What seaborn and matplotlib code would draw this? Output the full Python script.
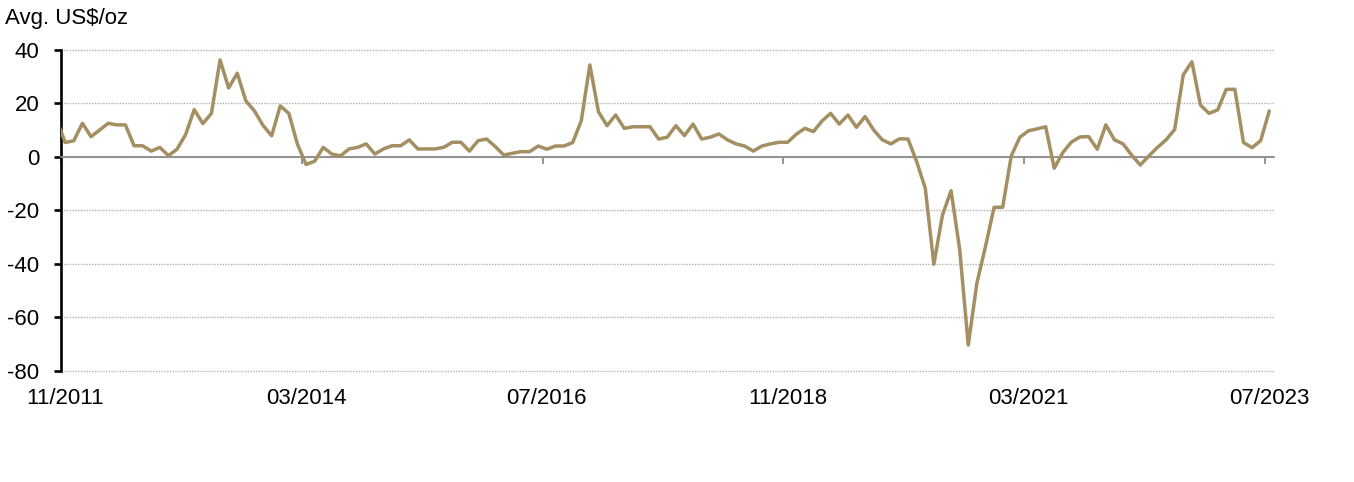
import numpy as np
import pandas as pd
import matplotlib.pyplot as plt
import seaborn as sns

# Monthly average spread, US$/oz (10/2011 is only partly visible at the left edge)
months = pd.period_range('2011-10', '2023-07', freq='M')

spread_2011_2014 = [14.0, 5.4, 6.1, 12.6, 7.6, 10.1, 12.6, 12.0, 12.0, 4.2, 4.2, 2.2, 3.6,
                    0.5, 2.9, 8.4, 17.7, 12.5, 16.3, 36.3, 25.8, 31.3, 21.0, 17.2, 11.8,
                    7.9, 19.1, 16.3, 4.8, -2.8]
spread_2014_2016 = [-1.6, 3.6, 1.1, 0.4, 3.0, 3.6, 4.9, 1.1, 3.0, 4.2, 4.2, 6.4, 3.0,
                    3.0, 3.0, 3.6, 5.5, 5.5, 2.2, 6.1, 6.7, 3.9, 0.7, 1.4, 2.0, 2.0,
                    4.1, 2.9, 4.1, 4.1, 5.4]
spread_2016_2019 = [13.5, 34.4, 16.9, 11.7, 15.7, 10.7, 11.3, 11.3, 11.3, 6.7, 7.4, 11.7,
                    8.0, 12.3, 6.7, 7.4, 8.6, 6.4, 4.9, 4.1, 2.2, 4.1, 4.9, 5.5, 5.5,
                    8.5, 10.7, 9.5, 13.5, 16.3, 12.3, 15.7, 11.1, 15.1, 10.1, 6.4, 4.9,
                    6.8, 6.7]
spread_2020_2023 = [-1.7, -11.7, -40.1, -21.7, -12.6, -34.5, -70.3, -47.2, -33.5, -18.8,
                    -18.8, 0.4, 7.4, 9.8, 10.5, 11.3, -4.2, 1.7, 5.6, 7.5, 7.6, 2.9,
                    12.0, 6.4, 4.9, 0.7, -3.0, 0.4, 3.6, 6.4, 10.3, 30.7, 35.6, 19.4,
                    16.3, 17.6, 25.3, 25.3, 5.4, 3.5, 6.1, 17.2]
spread = spread_2011_2014 + spread_2014_2016 + spread_2016_2019 + spread_2020_2023

tick_labels = ['11/2011', '03/2014', '07/2016', '11/2018', '03/2021', '07/2023']
y_ticks = [-80, -60, -40, -20, 0, 20, 40]

month_labels = list(months.strftime('%m/%Y'))
start = month_labels.index('11/2011')
df = pd.DataFrame({'month': month_labels, 'spread': spread})
df['pos'] = np.arange(len(df)) - start

sns.set_theme(style='white')
plt.rcParams['font.family'] = ['Liberation Sans', 'DejaVu Sans']
plt.rcParams['axes.unicode_minus'] = False
plt.rcParams['text.color'] = 'black'

fig = plt.figure(figsize=(13.54, 4.82), dpi=100)
ax = fig.add_axes([0.045, 0.2303, 0.8956, 0.666])

sns.lineplot(data=df, x='pos', y='spread', color='#A38F62', linewidth=2.5,
             ax=ax, zorder=3)

ax.set_xlim(-0.5, len(df) - start - 0.5)
ax.set_ylim(-80, 40)
ax.set_yticks(y_ticks)
ax.yaxis.grid(True, color='#b4b4b4', linestyle=(0, (1, 1)), linewidth=1.0)
ax.xaxis.grid(False)
for gl in ax.get_ygridlines():
    gl.set_clip_on(False)
ax.tick_params(axis='y', left=True, length=5.4, width=1.9, color='black',
               labelsize=16, pad=10, labelcolor='black')

# category axis crossing at zero: ticks between categories
label_pos = [month_labels.index(l) - start for l in tick_labels]
ax.spines['bottom'].set_position(('data', 0))
ax.spines['bottom'].set_color('#8a8a8a')
ax.spines['bottom'].set_linewidth(1.3)
ax.set_xticks([p - 0.5 for p in label_pos])
ax.tick_params(axis='x', bottom=True, length=5, width=1.3, color='#8a8a8a',
               labelbottom=False)
for side in ['top', 'right']:
    ax.spines[side].set_visible(False)
ax.spines['left'].set_color('black')
ax.spines['left'].set_linewidth(1.9)
ax.set_xlabel('')
ax.set_ylabel('')

# date labels below the plot area
sec = ax.secondary_xaxis('bottom')
sec.set_xticks(label_pos)
sec.set_xticklabels(tick_labels)
sec.tick_params(length=0, labelsize=16, pad=12, labelcolor='black')
sec.spines['bottom'].set_visible(False)

fig.text(0.004, 0.984, 'Avg. US$/oz', fontsize=16, ha='left', va='top')

plt.savefig('out.png', dpi=100)
